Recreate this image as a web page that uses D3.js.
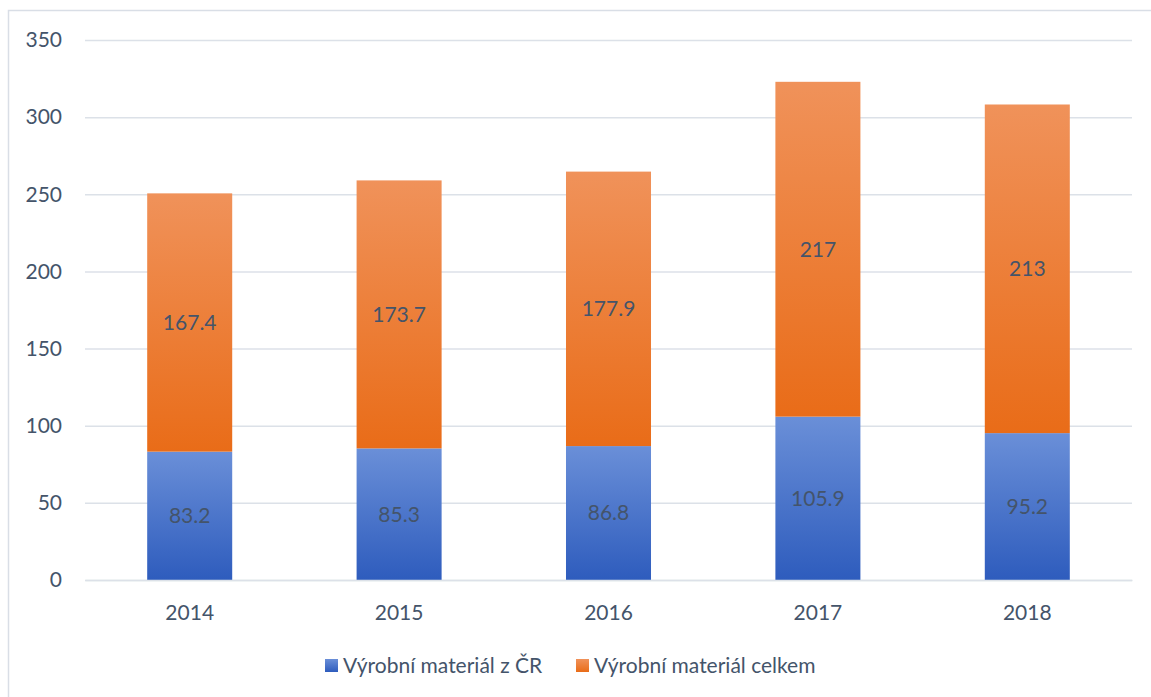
<!DOCTYPE html>
<html><head><meta charset="utf-8">
<script src="https://cdn.jsdelivr.net/npm/d3@7"></script>
<style>body{margin:0;background:#fff}svg{display:block}</style>
</head><body>
<svg id="c" width="1151" height="697"></svg>
<script>
const categories = ["2014","2015","2016","2017","2018"];
const domestic = [83.2, 85.3, 86.8, 105.9, 95.2];
const total = [167.4, 173.7, 177.9, 217, 213];
const seriesNames = ["Výrobní materiál z ČR", "Výrobní materiál celkem"];
const yTicks = [0,50,100,150,200,250,300,350];

(function(){
const svg = d3.select("#c");
const font = "Lato, 'Open Sans', sans-serif";
const textColor = "#44546A";

// chart border
svg.append("rect").attr("x",8.5).attr("y",10.5).attr("width",1160).attr("height",700)
  .attr("fill","none").attr("stroke","#D9DEE6").attr("stroke-width",1.5);

const pl = 85, pr = 1132, pt = 40, pb = 580;
const x = d3.scaleBand().domain(categories).range([pl,pr]).paddingInner(0.594).paddingOuter(0.297);
const y = d3.scaleLinear().domain([0,350]).range([pb,pt]);

const defs = svg.append("defs");
function grad(id, c1, c2){
  const g = defs.append("linearGradient").attr("id",id).attr("x1",0).attr("y1",0).attr("x2",0).attr("y2",1);
  g.append("stop").attr("offset","0%").attr("stop-color",c1);
  g.append("stop").attr("offset","100%").attr("stop-color",c2);
}
grad("gBlue","#6A8FD8","#2E5CBD");
grad("gOrange","#F0925A","#E96C18");

// gridlines
const yAxis = d3.axisLeft(y).tickValues(yTicks).tickSize(-(pr-pl)).tickPadding(23);
const ga = svg.append("g").attr("transform",`translate(${pl},0)`).call(yAxis);
ga.select(".domain").remove();
ga.selectAll(".tick line").attr("stroke","#DCE1E8").attr("stroke-width",1.5);
ga.selectAll(".tick text").attr("fill",textColor).attr("font-family",font).attr("font-size",21);

const stack = d3.stack().keys([0,1]).value((d,k)=> k===0 ? d.a : d.b);
const rows = categories.map((c,i)=>({cat:c,a:domestic[i],b:total[i]}));
const layers = stack(rows);
const fills = ["url(#gBlue)","url(#gOrange)"];
const vals = [domestic, total];

layers.forEach((layer,li)=>{
  const g = svg.append("g");
  g.selectAll("rect").data(layer).join("rect")
    .attr("x",d=>x(d.data.cat)).attr("width",x.bandwidth())
    .attr("y",d=>y(d[1])).attr("height",d=>y(d[0])-y(d[1]))
    .attr("fill",fills[li]);
  g.selectAll("text").data(layer).join("text")
    .attr("x",d=>x(d.data.cat)+x.bandwidth()/2)
    .attr("y",d=>(y(d[0])+y(d[1]))/2)
    .attr("dy","0.35em").attr("text-anchor","middle")
    .attr("fill",textColor).attr("font-family",font).attr("font-size",21)
    .text((d,i)=>String(vals[li][i]));
});

// x axis
const xAxis = d3.axisBottom(x).tickSize(0).tickPadding(0);
const gx = svg.append("g").attr("transform",`translate(0,${pb})`).call(xAxis);
gx.select(".domain").attr("stroke","#DCE1E8").attr("stroke-width",1.5);
gx.selectAll(".tick text").attr("fill",textColor).attr("font-family",font).attr("font-size",21)
  .attr("dy",null).attr("y",40);

// legend
const legend = svg.append("g");
const legX = [325, 576];
seriesNames.forEach((n,i)=>{
  legend.append("rect").attr("x",legX[i]).attr("y",659).attr("width",13).attr("height",13).attr("fill",fills[i]);
  legend.append("text").attr("x",legX[i]+18).attr("y",673).attr("fill",textColor)
    .attr("font-family",font).attr("font-size",21).text(n);
});
})();
</script>
</body></html>
